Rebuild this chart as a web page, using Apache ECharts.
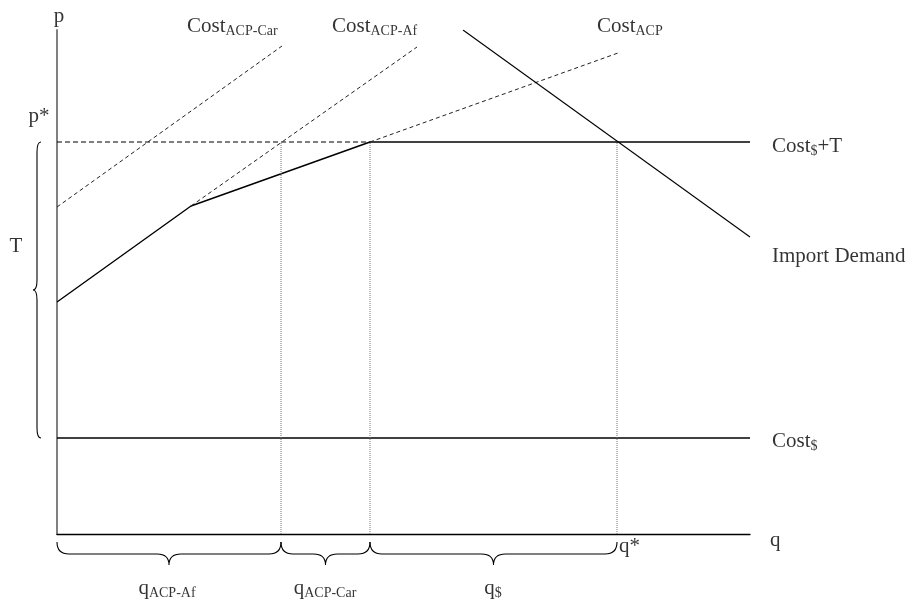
<!DOCTYPE html>
<html>
<head>
<meta charset="utf-8">
<script src="https://cdn.jsdelivr.net/npm/echarts@6/dist/echarts.min.js"></script>
<style>html,body{margin:0;padding:0;background:#fff}#c{width:920px;height:603px}</style>
</head>
<body>
<div id="c"></div>
<script>
// Diagram values (in diagram units: q horizontally, p vertically)
var qMax = 693, pMax = 504;
var costDollar = [[0, 96], [693, 96]];
var costDollarTDashed = [[0, 392], [313, 392]];
var costDollarTSolid = [[313, 392], [693, 392]];
var costACPSolid = [[0, 232], [134, 328], [313, 392]];
var costACPDashed = [[313, 392], [561, 481]];
var costACPCar = [[0, 327], [225, 488]];
var costACPAf = [[134, 328], [360, 487]];
var importDemand = [[406, 504], [693, 297]];
var dropQ = [224, 313, 560];
var dropP = 392;
var qBraces = [[0, 224], [224, 313], [313, 560]];
var tBrace = [[96, 392]];
// text labels: [q, p, text]
var labelsLeft = [
  [130, 508, '{m|Cost}{s|ACP-Car}'],
  [275, 508, '{m|Cost}{s|ACP-Af}'],
  [540, 508, '{m|Cost}{s|ACP}'],
  [715, 388, '{m|Cost}{s|$}{m|+T}'],
  [715, 278, '{m|Import Demand}'],
  [715, 93, '{m|Cost}{s|$}'],
  [713, -6, '{m|q}'],
  [562, -12, '{m|q*}']
];
var labelsCenter = [
  [2, 518, '{m|p}'],
  [-18, 418, '{m|p*}'],
  [-41, 288, '{m|T}'],
  [110, -54, '{m|q}{s|ACP-Af}'],
  [268, -54, '{m|q}{s|ACP-Car}'],
  [436, -54, '{m|q}{s|$}']
];

var FONT = '"Liberation Serif", "DejaVu Serif", serif';
var rich = {
  m: {fontSize: 21, fontFamily: FONT, color: '#000'},
  s: {fontSize: 14, fontFamily: FONT, color: '#000', padding: [11, 0, 0, 0]}
};

function lineSeries(data, type, color, width) {
  return {
    type: 'line', data: data, symbol: 'none', silent: true, animation: false,
    lineStyle: {color: color, width: width, type: type}, z: 3
  };
}

var series = [
  lineSeries(costDollar, 'solid', '#000', 1.3),
  lineSeries(costDollarTDashed, [5, 3], '#000', 1),
  lineSeries(costDollarTSolid, 'solid', '#000', 1.3),
  lineSeries(costACPSolid, 'solid', '#000', 1.4),
  lineSeries(costACPDashed, [4, 3], '#222', 1),
  lineSeries(costACPCar, [4, 3], '#222', 1),
  lineSeries(costACPAf, [4, 3], '#222', 1),
  lineSeries(importDemand, 'solid', '#000', 1.1)
];
dropQ.forEach(function (q) {
  series.push(lineSeries([[q, 0], [q, dropP]], [1, 1], '#777', 1));
});

series.push({
  type: 'custom', silent: true, animation: false, clip: false, data: qBraces,
  renderItem: function (params, api) {
    var a = api.coord([api.value(0), 0]);
    var b = api.coord([api.value(1), 0]);
    var top = a[1] + 8, mid = top + 12, tip = top + 23, r = 12;
    var xa = a[0], xb = b[0], m = (xa + xb) / 2;
    var d = 'M' + xa + ' ' + top + ' Q' + xa + ' ' + mid + ' ' + (xa + r) + ' ' + mid +
      ' L' + (m - r) + ' ' + mid + ' Q' + m + ' ' + mid + ' ' + m + ' ' + tip +
      ' Q' + m + ' ' + mid + ' ' + (m + r) + ' ' + mid +
      ' L' + (xb - r) + ' ' + mid + ' Q' + xb + ' ' + mid + ' ' + xb + ' ' + top;
    return {type: 'path', shape: {pathData: d}, style: {stroke: '#000', fill: null, lineWidth: 1.1}};
  }
});
series.push({
  type: 'custom', silent: true, animation: false, clip: false, data: tBrace,
  renderItem: function (params, api) {
    var a = api.coord([0, api.value(1)]);
    var b = api.coord([0, api.value(0)]);
    var xr = a[0] - 16, xm = xr - 4, xt = xm - 4, r = 10;
    var yt = a[1], yb = b[1], ym = (yt + yb) / 2;
    var d = 'M' + xr + ' ' + yt + ' Q' + xm + ' ' + yt + ' ' + xm + ' ' + (yt + r) +
      ' L' + xm + ' ' + (ym - r) + ' Q' + xm + ' ' + ym + ' ' + xt + ' ' + ym +
      ' Q' + xm + ' ' + ym + ' ' + xm + ' ' + (ym + r) +
      ' L' + xm + ' ' + (yb - r) + ' Q' + xm + ' ' + yb + ' ' + xr + ' ' + yb;
    return {type: 'path', shape: {pathData: d}, style: {stroke: '#000', fill: null, lineWidth: 1.1}};
  }
});

function labelSeries(data, align) {
  return {
    type: 'scatter', silent: true, animation: false, clip: false, symbolSize: 0,
    data: data.map(function (d) { return {value: [d[0], d[1]], text: d[2]}; }),
    label: {
      show: true, position: 'inside', align: align, verticalAlign: 'middle', color: '#000',
      formatter: function (p) { return p.data.text; }, rich: rich
    }, z: 5
  };
}
series.push(labelSeries(labelsLeft, 'left'));
series.push(labelSeries(labelsCenter, 'center'));

var chart = echarts.init(document.getElementById('c'), null, {renderer: 'canvas'});
chart.setOption({
  backgroundColor: '#fff',
  animation: false,
  grid: {left: 57, top: 30, width: 693, height: 504},
  xAxis: {
    type: 'value', min: 0, max: qMax, splitLine: {show: false},
    axisTick: {show: false}, axisLabel: {show: false},
    axisLine: {show: true, lineStyle: {color: '#000', width: 1.3}}
  },
  yAxis: {
    type: 'value', min: 0, max: pMax, splitLine: {show: false},
    axisTick: {show: false}, axisLabel: {show: false},
    axisLine: {show: true, lineStyle: {color: '#808080', width: 2}}
  },
  series: series
});
</script>
</body>
</html>
